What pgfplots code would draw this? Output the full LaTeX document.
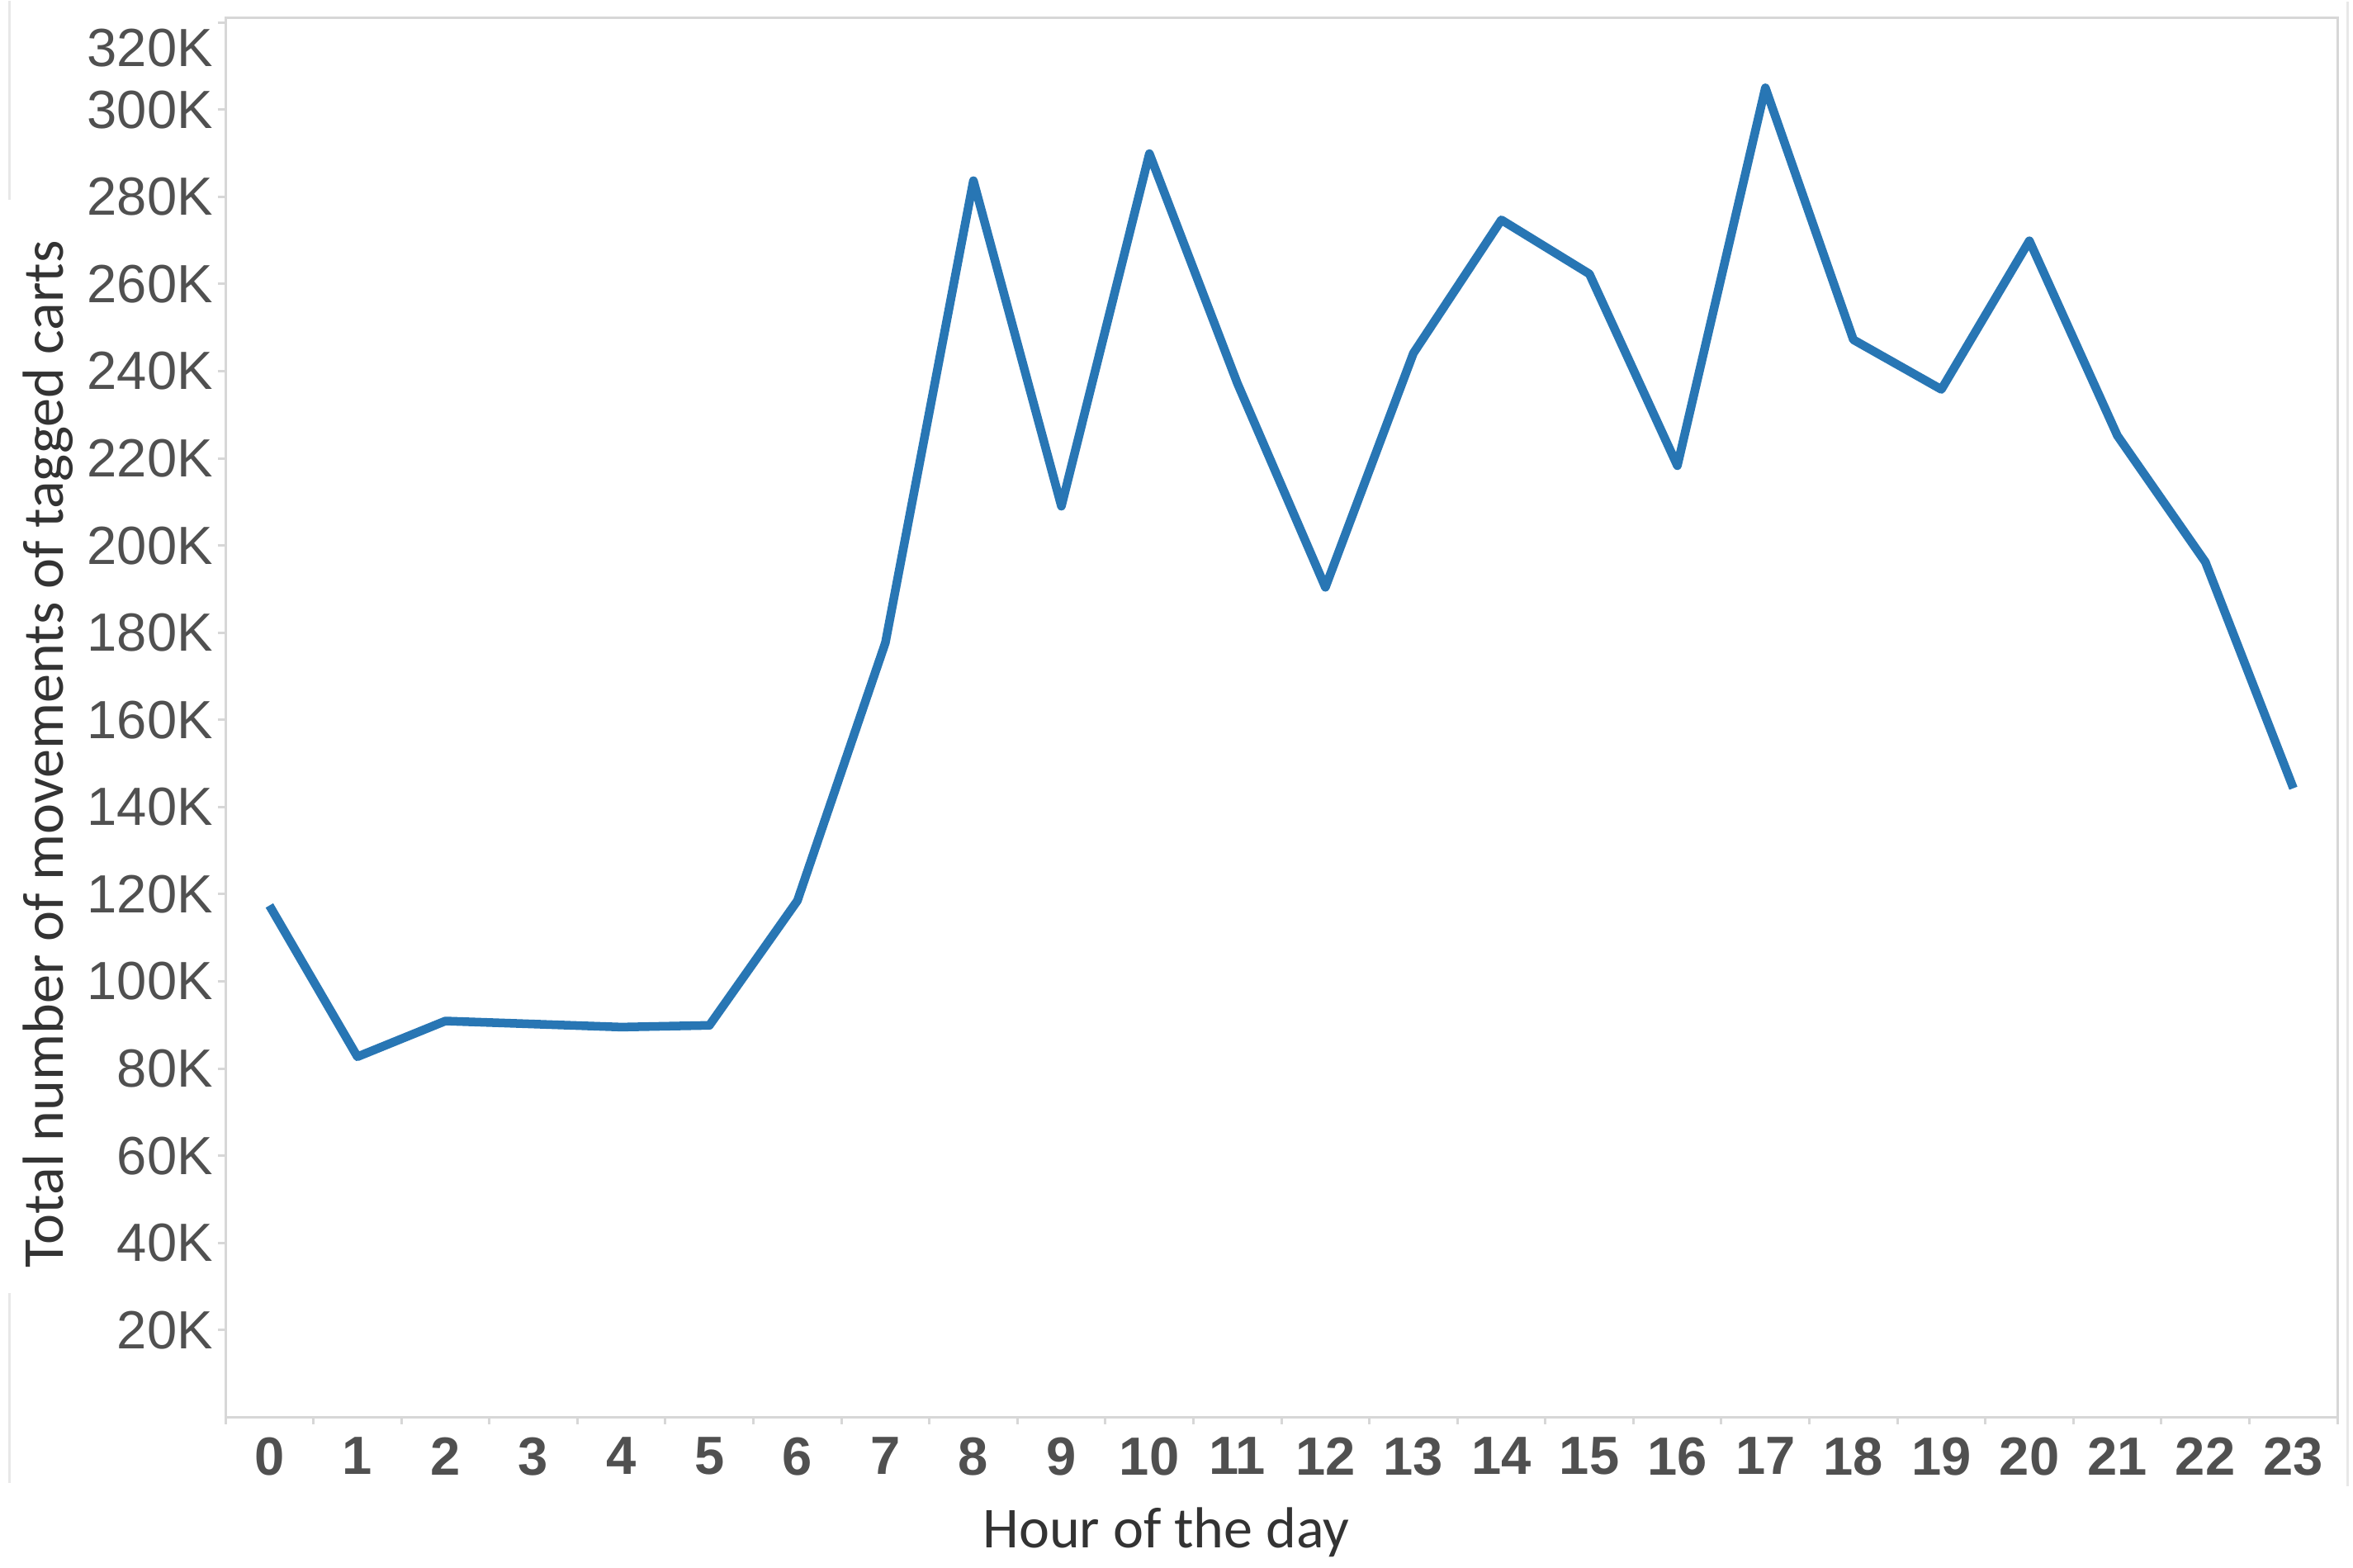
\documentclass[border=0pt]{standalone}
\usepackage{fontspec}
\setmainfont{Liberation Sans}
\newfontfamily\titlefont{Carlito}
\usepackage{pgfplots}
\pgfplotsset{compat=1.18}

\definecolor{lineblue}{RGB}{40,118,180}
\definecolor{framegray}{RGB}{215,215,215}
\definecolor{outergray}{RGB}{232,232,232}
\definecolor{ticktext}{RGB}{80,80,80}
\definecolor{titletext}{RGB}{51,51,51}

\begin{document}
\begin{tikzpicture}
\begin{axis}[
    scale only axis,
    width=17.95cm, height=11.89cm,
    xmin=-0.5, xmax=23.5,
    ymin=0, ymax=321000,
    axis line style={draw=framegray, line width=0.6pt},
    tick align=outside,
    xtick pos=bottom, ytick pos=left,
    major tick length=0.065cm,
    minor tick length=0.06cm,
    tick style={draw=framegray, line width=0.6pt},
    every major x tick/.append style={draw=none},
    xtick={0,1,...,23},
    xticklabels={0,1,2,3,4,5,6,7,8,9,10,11,12,13,14,15,16,17,18,19,20,21,22,23},
    minor xtick={-0.5,0.5,...,23.5},
    ytick={20000,40000,...,300000},
    yticklabels={20K,40K,60K,80K,100K,120K,140K,160K,180K,200K,220K,240K,260K,280K,300K},
    extra y ticks={320000},
    extra y tick labels={320K},
    extra y tick style={yticklabel style={yshift=-0.22cm}},
    scaled y ticks=false,
    yticklabel style={font=\fontsize{13}{15}\selectfont, text=ticktext,
        anchor=east, inner sep=0pt, xshift=-0.035cm},
    xticklabel style={font=\bfseries\fontsize{13}{15}\selectfont, text=ticktext,
        anchor=north, inner sep=0pt, yshift=-0.1cm},
    xlabel={Hour of the day},
    ylabel={Total number of movements of tagged carts},
    xlabel style={font=\titlefont\fontsize{14}{17}\selectfont, text=titletext,
        at={([shift={(-0.98cm,-1.107cm)}]axis description cs:0.5,0)}, anchor=base},
    ylabel style={font=\titlefont\fontsize{14}{17}\selectfont, text=titletext,
        at={([shift={(-1.376cm,-0.31cm)}]axis description cs:0,0.5)}, anchor=base},
  ]
  % hourly totals
  \addplot[color=lineblue, line width=2.1pt, line join=round] coordinates {
    (0,117400) (1,82700) (2,90900) (3,90200) (4,89500) (5,89900)
    (6,118500) (7,177700) (8,283700) (9,209000) (10,289900) (11,237200)
    (12,190400) (13,244100) (14,274700) (15,262300) (16,218300) (17,305000)
    (18,247200) (19,235800) (20,269900) (21,225200) (22,196200) (23,144300)
  };
  \coordinate (ll) at (rel axis cs:0,0);
  \coordinate (ur) at (rel axis cs:1,1);
\end{axis}
% faint panel borders
\draw[outergray, line width=0.6pt] ([shift={(-1.832cm,12.035cm)}]ll) -- ([shift={(-1.832cm,10.344cm)}]ll);
\draw[outergray, line width=0.6pt] ([shift={(-1.832cm,1.053cm)}]ll) -- ([shift={(-1.832cm,-0.561cm)}]ll);
\draw[outergray, line width=0.6pt] ([shift={(0.084cm,0.14cm)}]ur) -- ([shift={(0.084cm,-12.477cm)}]ur);
\pgfresetboundingbox
\path ([shift={(-1.916cm,-1.277cm)}]ll) rectangle ([shift={(0.133cm,0.154cm)}]ur);
\end{tikzpicture}
\end{document}
